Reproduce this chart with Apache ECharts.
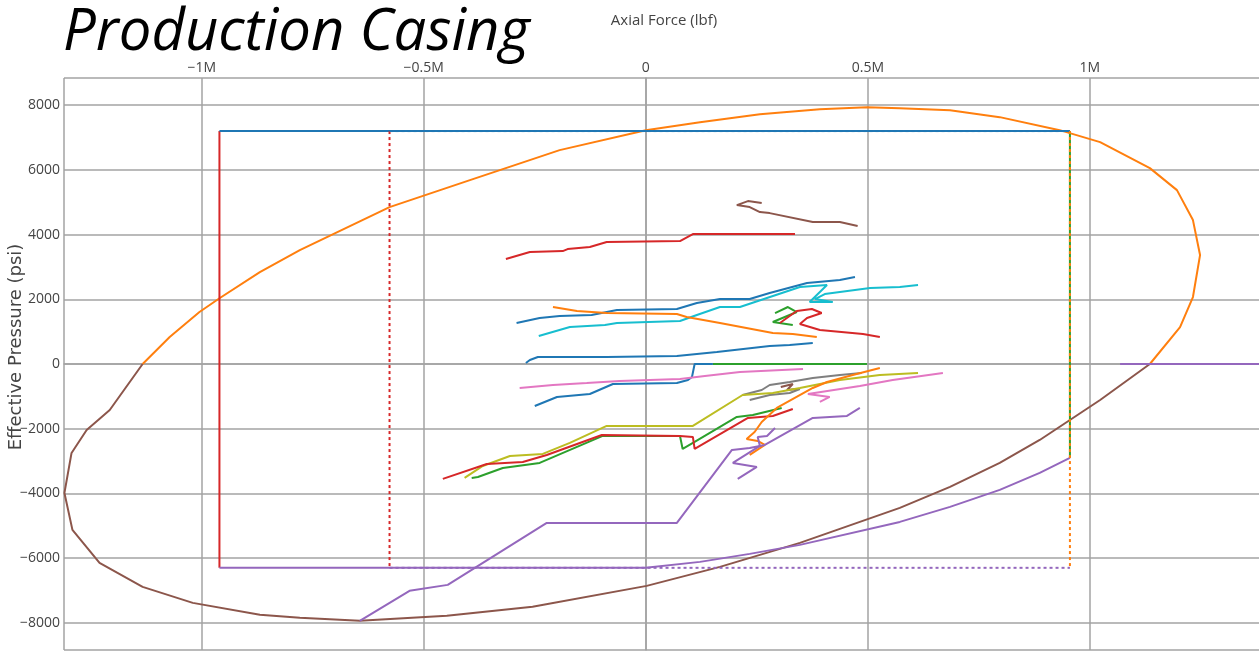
<!DOCTYPE html>
<html>
<head>
<meta charset="utf-8">
<title>Production Casing</title>
<script src="https://cdn.jsdelivr.net/npm/echarts@6/dist/echarts.min.js"></script>
<style>
  html, body { margin: 0; padding: 0; background: #fff; }
  #chart { width: 1259px; height: 651px; }
</style>
</head>
<body>
<div id="chart"></div>
<script>
// Axial force in lbf (x), effective pressure in psi (y)

// Triaxial design envelope
const envelopeUpper = [[-1133000,0],[-1072000,834],[-1005000,1606],[-959000,2039],[-869000,2842],[-779000,3521],[-577000,4850],[-396000,5684],[-194000,6611],[0,7228],[122000,7475],[257000,7723],[392000,7877],[498000,7939],[572000,7908],[685000,7846],[797000,7630],[932000,7228],[1023000,6858],[1135000,6054],[1196000,5375],[1232000,4448],[1248000,3367],[1232000,2070],[1203000,1143],[1135000,0]];
const envelopeLower = [[1135000,0],[1023000,-1112],[955000,-1730],[887000,-2348],[797000,-3058],[685000,-3799],[572000,-4448],[347000,-5529],[167000,-6271],[2000,-6858],[-255000,-7506],[-448000,-7784],[-644000,-7939],[-779000,-7846],[-869000,-7753],[-1020000,-7383],[-1133000,-6889],[-1230000,-6147],[-1291000,-5128],[-1309000,-3985],[-1293000,-2749],[-1259000,-2039],[-1207000,-1421],[-1133000,0]];

// API rating box (solid) and design-factor box (dotted)
const ratingLeft = [[-960000,7200],[-960000,-6300]];
const ratingTop = [[-960000,7200],[955000,7200]];
const ratingBottom = [[-960000,-6300],[0,-6300],[122000,-6116],[234000,-5869],[347000,-5591],[572000,-4881],[685000,-4417],[797000,-3892],[887000,-3367],[955000,-2900]];
const ratingRight = [[955000,7200],[955000,-2900]];
const designLeft = [[-577000,7200],[-577000,-6300]];
const designTop = [[-577000,7200],[955000,7200]];
const designRight = [[955000,7200],[955000,-6300]];
const designBottom = [[-577000,-6300],[955000,-6300]];
const compressionLimit = [[1068000,0],[1392000,0]];

// Load cases
const loadBrownTop = [[261000,4973],[230000,5035],[205000,4912],[234000,4850],[257000,4695],[279000,4664],[376000,4386],[437000,4386],[477000,4263]];
const loadRedTop = [[-315000,3243],[-261000,3460],[-187000,3491],[-176000,3552],[-126000,3614],[-88000,3769],[77000,3799],[106000,4016],[336000,4016]];
const loadBlueUpper = [[-291000,1267],[-239000,1421],[-194000,1483],[-122000,1514],[-65000,1668],[70000,1699],[115000,1884],[167000,2008],[234000,2008],[279000,2193],[363000,2502],[437000,2595],[471000,2688]];
const loadCyan = [[-241000,865],[-171000,1143],[-92000,1205],[-65000,1267],[77000,1328],[115000,1514],[167000,1761],[212000,1761],[347000,2379],[408000,2440],[369000,1915],[421000,1915],[381000,2008],[403000,2162],[437000,2224],[505000,2348],[572000,2379],[613000,2440]];
const loadOrangeMid = [[-209000,1761],[-155000,1637],[-88000,1575],[70000,1545],[92000,1452],[167000,1267],[286000,958],[331000,927],[385000,834]];
const loadGreenZig = [[291000,1575],[320000,1761],[340000,1606],[286000,1297],[331000,1205]];
const loadRedZig = [[302000,1267],[324000,1483],[340000,1637],[374000,1699],[396000,1575],[363000,1421],[347000,1236],[392000,1050],[489000,927],[527000,834]];
const loadBlueLow = [[-270000,31],[-261000,124],[-243000,216],[-88000,216],[70000,247],[160000,371],[279000,556],[324000,587],[376000,649]];
const loadGreenZero = [[151000,0],[167000,0],[498000,0]];
const loadBlueNeg = [[-250000,-1297],[-200000,-1019],[-126000,-927],[-74000,-618],[70000,-587],[95000,-494],[104000,-402],[110000,0],[151000,0]];
const loadPink = [[-284000,-741],[-209000,-649],[-133000,-587],[-59000,-525],[77000,-463],[133000,-371],[212000,-247],[354000,-154]];
const loadPinkRight = [[392000,-1174],[414000,-1019],[365000,-927],[482000,-680],[556000,-494],[669000,-278]];
const loadGray = [[218000,-958],[261000,-803],[279000,-649],[324000,-556],[376000,-432],[437000,-340],[486000,-278]];
const loadGrayLow = [[234000,-1112],[279000,-958],[324000,-896],[347000,-772]];
const loadBrownSmall = [[304000,-710],[331000,-618],[318000,-803],[340000,-772]];
const loadOlive = [[-408000,-3521],[-367000,-3151],[-306000,-2842],[-232000,-2780],[-171000,-2440],[-88000,-1915],[106000,-1915],[218000,-958],[286000,-896],[347000,-741],[437000,-494],[527000,-340],[613000,-278]];
const loadGreenLow = [[-392000,-3521],[-378000,-3491],[-322000,-3213],[-239000,-3058],[-97000,-2224],[77000,-2224],[83000,-2626],[110000,-2409],[205000,-1637],[241000,-1575],[306000,-1359]];
const loadRedLow = [[-457000,-3552],[-358000,-3089],[-277000,-3027],[-223000,-2811],[-99000,-2193],[77000,-2224],[106000,-2255],[110000,-2626],[230000,-1668],[286000,-1606],[331000,-1390]];
const loadOrangeLow = [[234000,-2811],[268000,-2502],[252000,-2379],[227000,-2317],[245000,-2101],[261000,-1792],[295000,-1359],[376000,-741],[408000,-556],[466000,-340],[527000,-124]];
const loadPurple = [[-644000,-7939],[-532000,-7012],[-446000,-6827],[-223000,-4912],[70000,-4912],[194000,-2657],[234000,-2595],[268000,-2502],[376000,-1668],[453000,-1606],[482000,-1359]];
const loadPurpleZig = [[291000,-1977],[273000,-2224],[252000,-2255],[257000,-2533],[196000,-3058],[250000,-3182],[207000,-3552]];

const xTicks = { min: -1310000, max: 1392000, step: 500000 };
const yTicks = { min: -8840, max: 8840, step: 2000 };

const C = {
  blue: '#1f77b4', orange: '#ff7f0e', green: '#2ca02c', red: '#d62728',
  purple: '#9467bd', brown: '#8c564b', pink: '#e377c2', gray: '#7f7f7f',
  olive: '#bcbd22', cyan: '#17becf'
};

function line(data, color, dash) {
  return {
    type: 'line',
    data: data,
    showSymbol: false,
    symbol: 'none',
    silent: true,
    animation: false,
    lineStyle: { color: color, width: 2, type: dash || 'solid' },
    itemStyle: { color: color }
  };
}

const dot = [3, 3];
const series = [
  line(envelopeUpper, C.orange),
  line(envelopeLower, C.brown),
  line(ratingLeft, C.red),
  line(ratingTop, C.blue),
  line(ratingBottom, C.purple),
  line(ratingRight, C.green),
  line(designLeft, C.red, dot),
  line(designTop, C.blue, dot),
  line(designRight, C.orange, dot),
  line(designBottom, C.purple, dot),
  line(compressionLimit, C.purple),
  line(loadBrownTop, C.brown),
  line(loadRedTop, C.red),
  line(loadBlueUpper, C.blue),
  line(loadCyan, C.cyan),
  line(loadOrangeMid, C.orange),
  line(loadGreenZig, C.green),
  line(loadRedZig, C.red),
  line(loadBlueLow, C.blue),
  line(loadGreenZero, C.green),
  line(loadBlueNeg, C.blue),
  line(loadPink, C.pink),
  line(loadPinkRight, C.pink),
  line(loadGray, C.gray),
  line(loadGrayLow, C.gray),
  line(loadBrownSmall, C.brown),
  line(loadOlive, C.olive),
  line(loadGreenLow, C.green),
  line(loadRedLow, C.red),
  line(loadOrangeLow, C.orange),
  line(loadPurple, C.purple),
  line(loadPurpleZig, C.purple)
];

const MINUS = '\u2212';
function fmtForce(v) {
  if (Math.abs(v % xTicks.step) > 1) return '';
  if (v === 0) return '0';
  const m = Math.abs(v) / 1e6;
  return (v < 0 ? MINUS : '') + m + 'M';
}
function fmtPressure(v) {
  if (Math.abs(v % yTicks.step) > 0.5) return '';
  return (v < 0 ? MINUS : '') + Math.abs(v);
}

const gridColor = '#a3a3a3';
const labelFont = { fontFamily: 'Open Sans', fontSize: 14, color: '#444' };

const chart = echarts.init(document.getElementById('chart'), null, { renderer: 'canvas' });
chart.setOption({
  animation: false,
  title: {
    text: 'Production Casing',
    left: 58,
    top: -1,
    textStyle: { fontFamily: 'Open Sans', fontStyle: 'italic', fontWeight: 'normal', fontSize: 58, color: '#000' }
  },
  graphic: [{
    type: 'text',
    x: 16,
    y: 347,
    rotation: Math.PI / 2,
    silent: true,
    style: {
      text: 'Effective Pressure (psi)',
      fontFamily: 'DejaVu Sans',
      fontSize: 18,
      fill: '#444',
      textAlign: 'center',
      textVerticalAlign: 'middle'
    }
  }],
  grid: { left: 64, top: 78, right: -5, bottom: 1, containLabel: false, outerBoundsMode: 'none' },
  xAxis: {
    type: 'value',
    position: 'top',
    min: xTicks.min,
    max: xTicks.max,
    minInterval: xTicks.step,
    maxInterval: xTicks.step,
    name: 'Axial Force (lbf)',
    nameLocation: 'middle',
    nameGap: 50,
    nameTextStyle: { fontFamily: 'Open Sans', fontSize: 15, color: '#444' },
    axisLine: { show: true, lineStyle: { color: gridColor, width: 1.5 } },
    axisTick: { show: false },
    splitLine: { show: true, lineStyle: { color: gridColor, width: 1.5 } },
    axisLabel: Object.assign({ margin: 3, showMinLabel: false, showMaxLabel: false, formatter: fmtForce }, labelFont)
  },
  yAxis: {
    type: 'value',
    min: yTicks.min,
    max: yTicks.max,
    minInterval: yTicks.step,
    maxInterval: yTicks.step,
    axisLine: { show: true, lineStyle: { color: gridColor, width: 1.5 } },
    axisTick: { show: false },
    splitLine: { show: true, lineStyle: { color: gridColor, width: 1.5 } },
    axisLabel: Object.assign({ margin: 4, showMinLabel: false, showMaxLabel: false, formatter: fmtPressure }, labelFont)
  },
  series: series
});
</script>
</body>
</html>
